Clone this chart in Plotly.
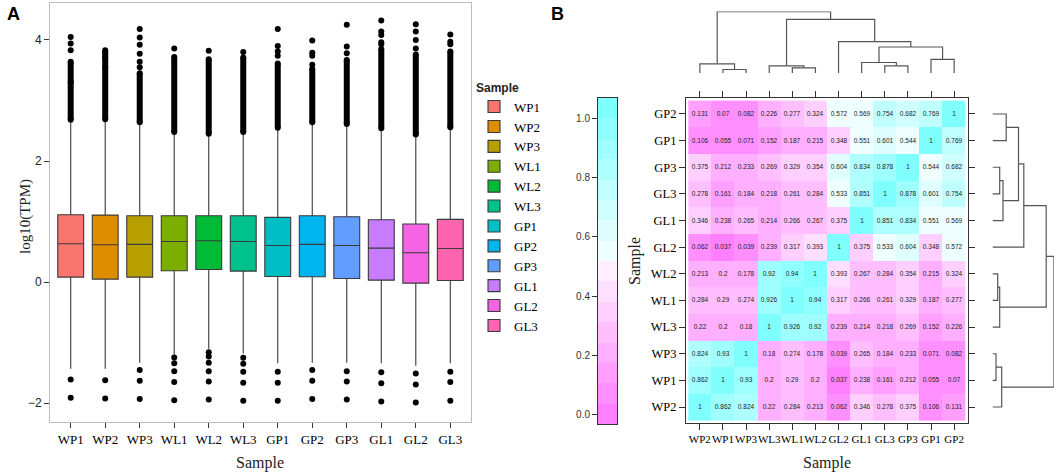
import plotly.graph_objects as go

W, H = 1059, 473
SERIF = "Liberation Serif"
SANS = "Liberation Sans"

# ---------------- Panel A data ----------------
samples = ["WP1", "WP2", "WP3", "WL1", "WL2", "WL3", "GP1", "GP2", "GP3", "GL1", "GL2", "GL3"]
box_colors = ["#F8766D", "#DE8C00", "#B79F00", "#7CAE00", "#00BA38", "#00C08B",
              "#00BFC4", "#00B4F0", "#619CFF", "#C77CFF", "#F564E3", "#FF64B0"]
q1 = [0.083, 0.050, 0.083, 0.187, 0.209, 0.182, 0.094, 0.088, 0.061, 0.033, -0.017, 0.028]
median = [0.633, 0.617, 0.623, 0.672, 0.683, 0.672, 0.606, 0.623, 0.606, 0.562, 0.485, 0.556]
q3 = [1.112, 1.107, 1.096, 1.096, 1.096, 1.096, 1.069, 1.096, 1.080, 1.030, 0.959, 1.036]
upper_whisker = [2.64, 2.65, 2.60, 2.44, 2.41, 2.44, 2.51, 2.60, 2.57, 2.50, 2.40, 2.52]
lower_whisker = [-1.43, -1.43, -1.33, -1.20, -1.10, -1.18, -1.34, -1.33, -1.33, -1.34, -1.38, -1.34]
# continuous run of overlapping upper outliers (bottom, top)
dense_low = [2.68, 2.69, 2.64, 2.48, 2.45, 2.48, 2.55, 2.64, 2.61, 2.54, 2.44, 2.56]
dense_high = [3.64, 3.80, 3.45, 3.72, 3.68, 3.71, 3.61, 3.52, 3.67, 3.85, 3.76, 3.81]
upper_outliers = [
    [4.05, 3.94, 3.83, 3.30],
    [3.83, 3.70, 3.55],
    [4.18, 4.04, 3.92, 3.77, 3.64, 3.55],
    [3.86],
    [3.82],
    [3.80],
    [4.18, 3.90, 3.81, 3.74],
    [3.99, 3.79, 3.74, 3.59],
    [4.25, 3.89, 3.78],
    [4.32, 4.14, 4.08, 3.96, 3.93],
    [4.26, 4.14, 4.00, 3.86],
    [4.09, 3.97, 3.93],
]
lower_outliers = [
    [-1.61, -1.91],
    [-1.62, -1.92],
    [-1.45, -1.63, -1.93],
    [-1.245, -1.34, -1.47, -1.65, -1.95],
    [-1.16, -1.23, -1.33, -1.47, -1.64, -1.94],
    [-1.25, -1.35, -1.48, -1.66, -1.96],
    [-1.48, -1.66, -1.96],
    [-1.45, -1.63, -1.93],
    [-1.47, -1.64, -1.94],
    [-1.49, -1.67, -1.97],
    [-1.51, -1.69, -1.99],
    [-1.48, -1.65, -1.96],
]
y_ticks_A = [-2, 0, 2, 4]

# ---------------- Panel B data ----------------
hm_order = ["WP2", "WP1", "WP3", "WL3", "WL1", "WL2", "GL2", "GL1", "GL3", "GP3", "GP1", "GP2"]
# rows from top (GP2) to bottom (WP2); columns follow hm_order
corr_rows_top_down = [
    [0.131, 0.07, 0.082, 0.226, 0.277, 0.324, 0.572, 0.569, 0.754, 0.682, 0.769, 1],
    [0.106, 0.055, 0.071, 0.152, 0.187, 0.215, 0.348, 0.551, 0.601, 0.544, 1, 0.769],
    [0.375, 0.212, 0.233, 0.269, 0.329, 0.354, 0.604, 0.834, 0.878, 1, 0.544, 0.682],
    [0.278, 0.161, 0.184, 0.218, 0.261, 0.284, 0.533, 0.851, 1, 0.878, 0.601, 0.754],
    [0.346, 0.238, 0.265, 0.214, 0.266, 0.267, 0.375, 1, 0.851, 0.834, 0.551, 0.569],
    [0.062, 0.037, 0.039, 0.239, 0.317, 0.393, 1, 0.375, 0.533, 0.604, 0.348, 0.572],
    [0.213, 0.2, 0.178, 0.92, 0.94, 1, 0.393, 0.267, 0.284, 0.354, 0.215, 0.324],
    [0.284, 0.29, 0.274, 0.926, 1, 0.94, 0.317, 0.266, 0.261, 0.329, 0.187, 0.277],
    [0.22, 0.2, 0.18, 1, 0.926, 0.92, 0.239, 0.214, 0.218, 0.269, 0.152, 0.226],
    [0.824, 0.93, 1, 0.18, 0.274, 0.178, 0.039, 0.265, 0.184, 0.233, 0.071, 0.082],
    [0.862, 1, 0.93, 0.2, 0.29, 0.2, 0.037, 0.238, 0.161, 0.212, 0.055, 0.07],
    [1, 0.862, 0.824, 0.22, 0.284, 0.213, 0.062, 0.346, 0.278, 0.375, 0.106, 0.131],
]
# hierarchical clustering merges: (left, right, height)
merges = [
    ("WP1", "WP3", 3.5),
    ("WP2", "m1", 9.2),
    ("WL1", "WL2", 5.2),
    ("WL3", "m3", 7.2),
    ("GL3", "GP3", 7.2),
    ("GL1", "m5", 10.5),
    ("GP1", "GP2", 13.7),
    ("m6", "m7", 26.0),
    ("GL2", "m8", 31.3),
    ("m4", "m9", 53.7),
    ("m2", "m10", 61.4),
]
colorbar_ticks = [0.0, 0.2, 0.4, 0.6, 0.8, 1.0]
n_bins = 16


def px_x(x):
    return x / W


def px_y(y):
    return 1 - y / H


fig = go.Figure()

# ---------------- Panel A: boxes ----------------
for i, s in enumerate(samples):
    fig.add_trace(go.Box(
        x=[s], q1=[q1[i]], median=[median[i]], q3=[q3[i]],
        lowerfence=[lower_whisker[i]], upperfence=[upper_whisker[i]],
        name=s, fillcolor=box_colors[i], line=dict(color="#3a3a3a", width=1.1),
        width=0.75, whiskerwidth=0, boxpoints=False,
        xaxis="x", yaxis="y", showlegend=True,
    ))
for i, s in enumerate(samples):
    fig.add_trace(go.Scatter(
        x=[s, s], y=[dense_low[i], dense_high[i]], mode="lines+markers",
        line=dict(color="black", width=6), marker=dict(color="black", size=6),
        xaxis="x", yaxis="y", showlegend=False, hoverinfo="skip",
    ))
    pts = upper_outliers[i] + lower_outliers[i]
    fig.add_trace(go.Scatter(
        x=[s] * len(pts), y=pts, mode="markers",
        marker=dict(color="black", size=6),
        xaxis="x", yaxis="y", showlegend=False, hoverinfo="skip",
    ))

# ---------------- Panel B: heatmap ----------------
z = corr_rows_top_down[::-1]
flat = [v for r in z for v in r]
lo, hi = min(flat), max(flat)
pad = 0.07 * (hi - lo)
zmin, zmax = lo - pad, hi + pad
step = (zmax - zmin) / n_bins
breaks = [zmin + k * step for k in range(n_bins + 1)]

k_half = n_bins // 2


def rgb_hex(r, g, b):
    return "#%02X%02X%02X" % (round(r * 255), round(g * 255), round(b * 255))


cyan_s = [0.5 - j * (0.5 - 0.5 / k_half) / (k_half - 1) for j in range(k_half)]
mag_s = [(j + 1) * 0.5 / k_half for j in range(k_half)]
cm_colors = [rgb_hex(1 - s, 1, 1) for s in cyan_s] + [rgb_hex(1, 1 - s, 1) for s in mag_s]
palette = cm_colors[::-1]  # low = magenta, high = cyan
colorscale = []
for j, c in enumerate(palette):
    colorscale.append([j / n_bins, c])
    colorscale.append([(j + 1) / n_bins, c])

text = [[f"{v:g}" for v in r] for r in z]
idx = list(range(len(hm_order)))
fig.add_trace(go.Heatmap(
    z=z, x=idx, y=idx, text=text, texttemplate="%{text}",
    textfont=dict(family=SANS, size=6.5, color="#222"),
    colorscale=colorscale, zmin=zmin, zmax=zmax, showscale=False,
    xaxis="x2", yaxis="y2", hoverinfo="skip",
))

# colour key strip
mids = [(breaks[k] + breaks[k + 1]) / 2 for k in range(n_bins)]
fig.add_trace(go.Heatmap(
    z=[[m] for m in mids], x=[0], y=mids,
    colorscale=colorscale, zmin=zmin, zmax=zmax, showscale=False,
    xaxis="x5", yaxis="y5", hoverinfo="skip",
))

# dendrograms
pos = {n: i for i, n in enumerate(hm_order)}
hgt = {n: 0.0 for n in hm_order}
dx, dy = [], []
for m, (a, b, h) in enumerate(merges, start=1):
    dx += [pos[a], pos[a], pos[b], pos[b], None]
    dy += [hgt[a], h, h, hgt[b], None]
    pos[f"m{m}"] = (pos[a] + pos[b]) / 2
    hgt[f"m{m}"] = h
root_h = merges[-1][2]
fig.add_trace(go.Scatter(x=dx, y=dy, mode="lines", line=dict(color="#555", width=1.2),
                         xaxis="x3", yaxis="y3", showlegend=False, hoverinfo="skip"))
fig.add_trace(go.Scatter(x=dy, y=dx, mode="lines", line=dict(color="#555", width=1.2),
                         xaxis="x4", yaxis="y4", showlegend=False, hoverinfo="skip"))

# ---------------- Layout ----------------
hide = dict(visible=False, showgrid=False, zeroline=False)
cell_range = [-0.6, len(hm_order) - 0.4]


def label(text, x, y, size, family=SERIF, angle=0, color="#222", bold=False):
    return dict(text=f"<b>{text}</b>" if bold else text, x=px_x(x), y=px_y(y),
                xref="paper", yref="paper", xanchor="center", yanchor="middle",
                textangle=angle, showarrow=False,
                font=dict(family=family, size=size, color=color))


fig.update_layout(
    width=W, height=H, margin=dict(l=0, r=0, t=0, b=0),
    paper_bgcolor="white", plot_bgcolor="white", boxmode="overlay",
    hovermode=False,
    xaxis=dict(domain=[px_x(50), px_x(471)], anchor="y", type="category",
               categoryorder="array", categoryarray=samples, range=[-0.6, 11.6],
               ticks="outside", ticklen=5, tickcolor="#333", showline=True,
               linecolor="#BDBDBD", linewidth=1, mirror=True, showgrid=False, zeroline=False,
               tickfont=dict(family=SERIF, size=13, color="black")),
    yaxis=dict(domain=[px_y(422), px_y(3)], anchor="x", range=[-2.31, 4.61],
               tickvals=y_ticks_A, ticks="outside", ticklen=5, tickcolor="#333",
               showline=True, linecolor="#BDBDBD", linewidth=1, mirror=True,
               showgrid=False, zeroline=False,
               tickfont=dict(family=SANS, size=12, color="#222")),
    xaxis2=dict(domain=[px_x(686), px_x(968)], anchor="y2", range=cell_range,
                tickvals=idx, ticktext=hm_order, ticks="outside", ticklen=6, tickangle=0,
                tickcolor="#333", showline=True, linecolor="#333", linewidth=1,
                mirror="allticks", showgrid=False, zeroline=False,
                tickfont=dict(family=SERIF, size=11, color="black")),
    yaxis2=dict(domain=[px_y(423), px_y(98)], anchor="x2", range=cell_range,
                tickvals=idx, ticktext=hm_order, ticks="outside", ticklen=6,
                tickcolor="#333", showline=True, linecolor="#333", linewidth=1,
                mirror="allticks", showgrid=False, zeroline=False,
                tickfont=dict(family=SERIF, size=12.5, color="black")),
    xaxis3=dict(domain=[px_x(686), px_x(968)], anchor="y3", range=cell_range, **hide),
    yaxis3=dict(domain=[px_y(73), px_y(73 - root_h)], anchor="x3", range=[0, root_h], **hide),
    xaxis4=dict(domain=[px_x(992.5), px_x(992.5 + root_h)], anchor="y4", range=[0, root_h], **hide),
    yaxis4=dict(domain=[px_y(423), px_y(98)], anchor="x4", range=cell_range, **hide),
    xaxis5=dict(domain=[px_x(598), px_x(617)], anchor="y5", range=[-0.5, 0.5],
                showticklabels=False, ticks="", showline=True, linecolor="#333",
                mirror=True, showgrid=False, zeroline=False),
    yaxis5=dict(domain=[px_y(424), px_y(98)], anchor="x5", range=[breaks[0], breaks[-1]],
                tickvals=colorbar_ticks, ticktext=[f"{t:.1f}" for t in colorbar_ticks],
                ticks="outside", ticklen=5, tickcolor="#333", showline=True,
                linecolor="#333", mirror=True, showgrid=False, zeroline=False,
                tickfont=dict(family=SANS, size=10, color="#333")),
    legend=dict(x=px_x(474), y=px_y(76), xanchor="left", yanchor="top",
                tracegroupgap=0,
                title=dict(text="<b>Sample</b>", font=dict(family=SANS, size=12, color="#222")),
                font=dict(family=SERIF, size=13, color="black"),
                bgcolor="rgba(0,0,0,0)", itemclick=False, itemdoubleclick=False),
    annotations=[
        label("A", 13, 14, 18, family=SANS, color="black", bold=True),
        label("B", 557, 14, 18, family=SANS, color="black", bold=True),
        label("log10(TPM)", 25, 217, 15, angle=-90),
        label("Sample", 260, 463, 16),
        label("Sample", 635, 261, 16, angle=-90),
        label("Sample", 827, 463, 16),
    ],
)

fig.write_html("out.html", config={"displayModeBar": False},
               post_script="document.body.style.margin='0';document.body.style.padding='0';")
